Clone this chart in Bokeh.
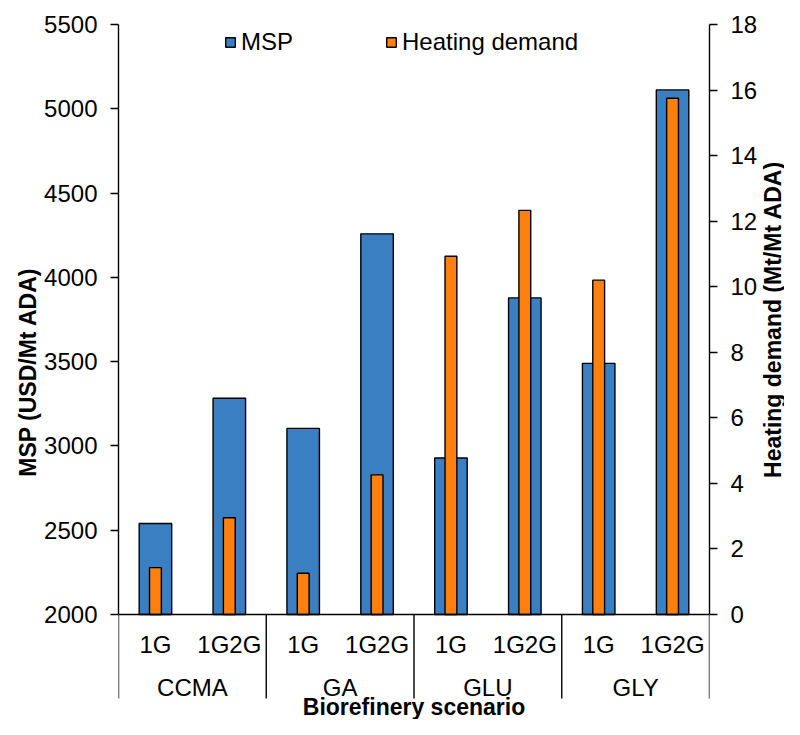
import math
from bokeh.plotting import figure
from bokeh.layouts import row
from bokeh.models import Range1d, LinearAxis, FixedTicker, Legend, LegendItem, ColumnDataSource
from bokeh.embed import file_html
from bokeh.resources import INLINE
from bokeh.core.properties import value

groups = ["CCMA", "GA", "GLU", "GLY"]
scenarios = ["1G", "1G2G"]
msp = [2540, 3283, 3104, 4258, 2928, 3878, 3490, 5112]          # USD/Mt ADA
heating = [1.43, 2.95, 1.26, 4.26, 10.93, 12.33, 10.20, 15.75]  # Mt/Mt ADA
left_ticks = [2000, 2500, 3000, 3500, 4000, 4500, 5000, 5500]
right_ticks = [0, 2, 4, 6, 8, 10, 12, 14, 16, 18]

FONT = "Liberation Sans"
BLUE = "#3A7FC1"
ORANGE = "#FF7F0F"

W, H = 760, 719
LABEL_W = 24
TOP = 24
LEFT = 118
RIGHT = 48
AX_PX = 590  # pixels from 2000 to 5500
below_px = H - TOP - AX_PX
k = 3500 / AX_PX
y0 = 2000 - below_px * k
r0 = -below_px * 18 / AX_PX

def off(px):
    return 2000 - px * k

n = len(groups) * len(scenarios)
xs = [i + 0.5 for i in range(n)]
labels = [s for g in groups for s in scenarios]

p = figure(width=W, height=H, output_backend="svg", toolbar_location=None,
           x_range=Range1d(0, n), y_range=Range1d(y0, 5500),
           min_border_top=TOP, min_border_left=LEFT, min_border_right=RIGHT,
           min_border_bottom=0)
p.extra_y_ranges = {"right": Range1d(r0, 18)}
p.xaxis.visible = False
p.grid.visible = False
p.outline_line_color = None
p.background_fill_color = "white"
p.border_fill_color = "white"

src = ColumnDataSource(dict(x=xs, msp=msp, heat=heating, lab=labels))
b1 = p.vbar(x="x", top="msp", bottom=2000, width=0.44, source=src,
            fill_color=BLUE, line_color="black", line_width=1.4)
b2 = p.vbar(x="x", top="heat", bottom=0, width=0.16, source=src, y_range_name="right",
            fill_color=ORANGE, line_color="black", line_width=1.4)

def style_axis(ax, ticks):
    ax.ticker = FixedTicker(ticks=ticks)
    ax.minor_tick_line_color = None
    ax.major_tick_out = 8
    ax.major_tick_in = 0
    ax.major_tick_line_width = 1.4
    ax.major_tick_line_color = "black"
    ax.axis_line_width = 1.4
    ax.axis_line_color = "black"
    ax.major_label_text_font = FONT
    ax.major_label_text_font_size = "24px"
    ax.major_label_text_color = "black"
    ax.major_label_standoff = 13
    ax.axis_label_text_font = FONT
    ax.axis_label_text_font_style = "bold"
    ax.axis_label_text_font_size = "23px"
    ax.axis_label_text_color = "black"
    ax.axis_label_standoff = 0

ya = p.yaxis[0]
ya.bounds = (2000, 5500)
style_axis(ya, left_ticks)
ya.axis_label = "MSP (USD/Mt ADA)"

ra = LinearAxis(y_range_name="right", bounds=(0, 18))
style_axis(ra, right_ticks)
p.add_layout(ra, "right")

# category axis drawn below the frame
p.segment(x0=[0], y0=[2000], x1=[n], y1=[2000], line_color="black", line_width=1.4)
sep = list(range(0, n + 1, len(scenarios)))
p.segment(x0=sep, y0=[2000] * len(sep), x1=sep, y1=[off(84)] * len(sep),
          line_color="black", line_width=1.4)
p.text(x="x", y=off(30), text="lab", source=src, text_align="center", text_baseline="middle",
       text_font=value(FONT), text_font_size="24px", text_color="black")
gx = [len(scenarios) * i + len(scenarios) / 2 for i in range(len(groups))]
p.text(x=gx, y=[off(73)] * len(groups), text=groups, text_align="center", text_baseline="middle",
       text_font=value(FONT), text_font_size="24px", text_color="black")
p.text(x=[n / 2], y=[off(92)], text=["Biorefinery scenario"], text_align="center",
       text_baseline="middle", text_font=value(FONT), text_font_size="23px",
       text_font_style="bold", text_color="black")

legend = Legend(items=[LegendItem(label="MSP", renderers=[b1]),
                       LegendItem(label="Heating demand", renderers=[b2])],
                orientation="horizontal", location=(106, AX_PX + below_px - 32),
                background_fill_alpha=0, border_line_color=None,
                padding=0, margin=0, spacing=92, label_standoff=5,
                glyph_width=12, glyph_height=12,
                label_text_font=FONT, label_text_font_size="24px", label_text_color="black")
p.add_layout(legend)

# right axis title in a narrow companion panel (reads bottom-to-top)
p2 = figure(width=LABEL_W, height=H, output_backend="svg", toolbar_location=None,
            x_range=Range1d(0, 1), y_range=Range1d(y0, 5500),
            min_border=0, min_border_top=TOP, min_border_bottom=0)
p2.axis.visible = False
p2.grid.visible = False
p2.outline_line_color = None
p2.background_fill_color = "white"
p2.border_fill_color = "white"
p2.text(x=[0.5], y=[3750], text=["Heating demand (Mt/Mt ADA)"], angle=math.pi / 2,
        text_align="center", text_baseline="middle", text_font=value(FONT),
        text_font_size="23px", text_font_style="bold", text_color="black")

layout = row(p, p2, spacing=0)
open("out.html", "w").write(file_html(layout, INLINE))
